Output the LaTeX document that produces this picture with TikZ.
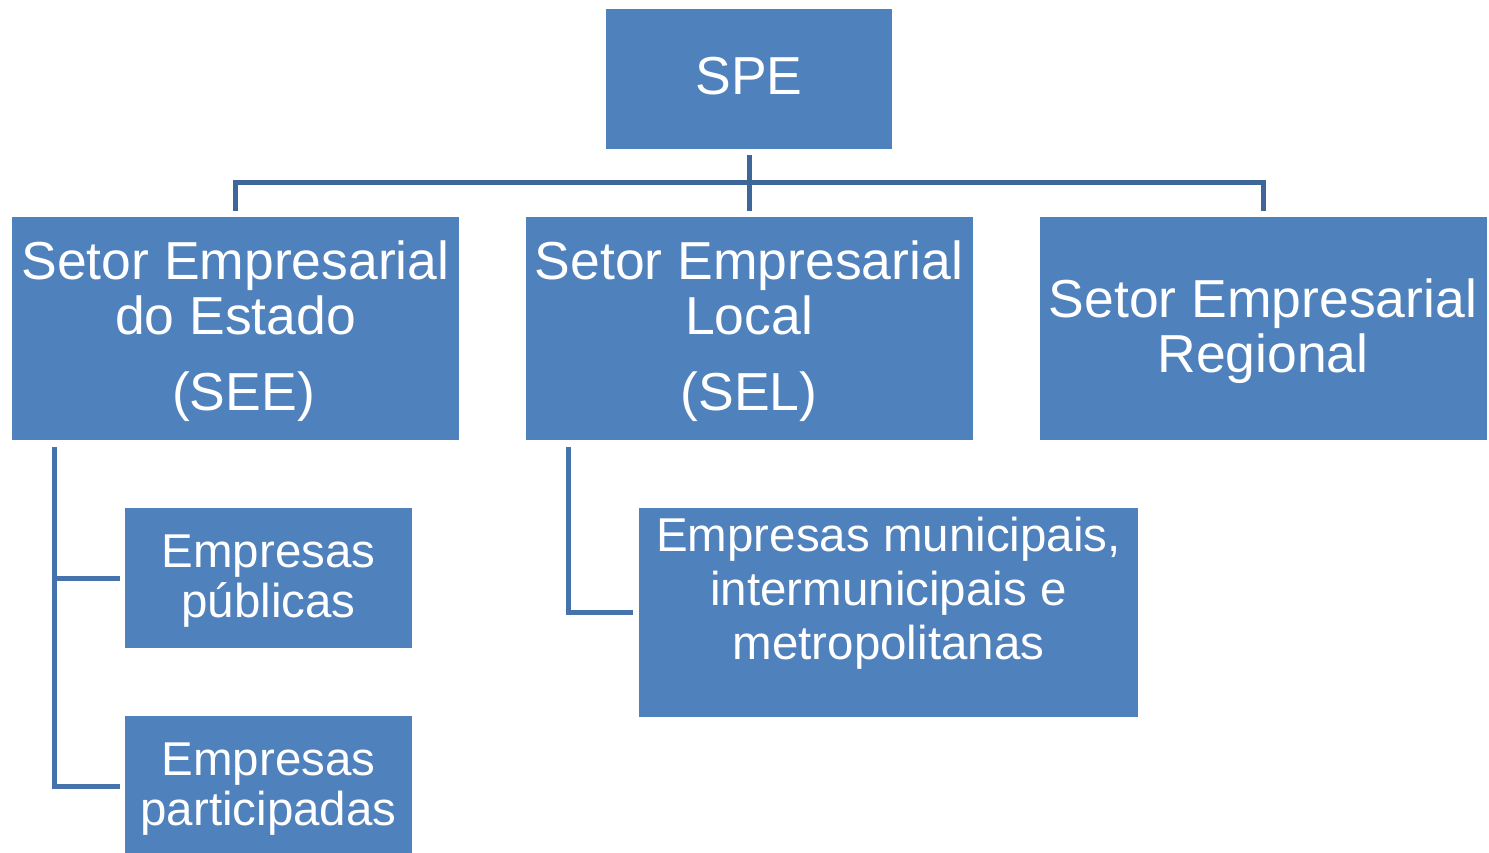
\documentclass[tikz,border=0pt]{standalone}
\usepackage{fontspec}
\setmainfont{Liberation Sans}
\usetikzlibrary{calc}
\definecolor{boxblue}{HTML}{4F81BD}
\definecolor{linkdark}{HTML}{3E6699}
\definecolor{linklight}{HTML}{4673AC}
\begin{document}
\begin{tikzpicture}[x=0.5pt,y=-0.5pt,
 box/.style={fill=boxblue, draw=none, inner sep=0pt},
 txt/.style={text=white, align=center, inner sep=0pt},
 big/.style={font=\fontsize{26.75}{27.5}\selectfont},
 small/.style={font=\fontsize{23.75}{24.75}\selectfont},
 link/.style={draw=linkdark, line width=2.5pt},
 sublink/.style={draw=linklight, line width=2.5pt}]
\useasboundingbox (0,0) rectangle (1489,852);
% boxes
\node[box,minimum width=143pt,minimum height=70pt] (spe) at (749,79) {};
\node[box,minimum width=223.5pt,minimum height=111.5pt] (see) at (235.5,328.5) {};
\node[box,minimum width=223.5pt,minimum height=111.5pt] (sel) at (749,328.5) {};
\node[box,minimum width=223.5pt,minimum height=111.5pt] (ser) at (1263,328.5) {};
\node[box,minimum width=143.5pt,minimum height=70pt] (ep) at (268.5,578) {};
\node[box,minimum width=143.5pt,minimum height=70pt] (epart) at (268.5,786) {};
\node[box,minimum width=249.5pt,minimum height=104.5pt] (em) at (888.5,612.5) {};
% texts
\node[txt,big] (spetext) at ($(spe.center)+(0,-3)$) {SPE};
\node[txt,big] (seetext) at ($(see.center)+(0,3)$) {Setor Empresarial\\do Estado\\[10.5pt]\hspace*{8pt}(SEE)};
\node[txt,big] (seltext) at ($(sel.center)+(0,3)$) {Setor Empresarial\\Local\\[10.5pt](SEL)};
\node[txt,big] (sertext) at ($(ser.center)+(0,3)$) {Setor Empresarial\\Regional};
\node[txt,small] (eptext) at ($(ep.center)+(0,3)$) {Empresas\\públicas};
\node[txt,small] (eparttext) at ($(epart.center)+(0,3)$) {Empresas\\participadas};
\node[txt,font=\fontsize{23.75}{27}\selectfont] (emtext) at ($(em.center)+(0,-19)$) {Empresas municipais,\\intermunicipais e\\metropolitanas};
% connectors
\draw[link] ($(spe.south)+(0,6)$) -- ($(sel.north)+(0,-6)$);
\draw[link] ($(see.north)+(0,-6)$) |- ($(ser.north)+(0,-34)$) -- ($(ser.north)+(0,-6)$);
\draw[sublink] ($(see.south west)+(43,7)$) |- ($(epart.west)+(-5,0)$);
\draw[sublink] ($(ep.west)+(-5,0)$) -- ($(see.south west |- ep.west)+(43,0)$);
\draw[sublink] ($(sel.south west)+(43,7)$) |- ($(em.west)+(-6,0)$);
\end{tikzpicture}
\end{document}
